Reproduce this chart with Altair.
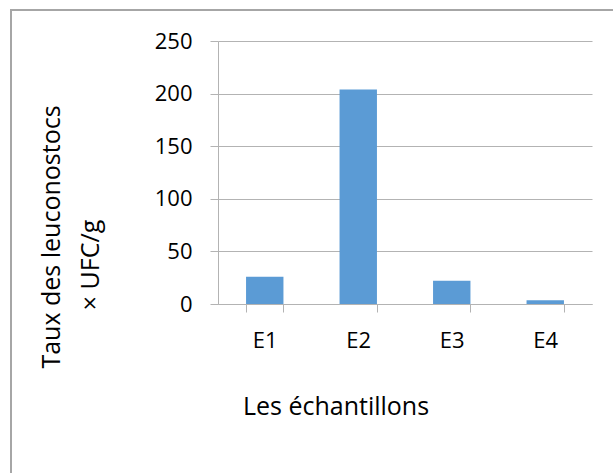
import altair as alt
import pandas as pd

# Leuconostoc counts per sample
samples = ["E1", "E2", "E3", "E4"]
counts = [26, 204, 22, 3.5]
y_ticks = [0, 50, 100, 150, 200, 250]
y_title_lines = ["Taux des leuconostocs", "× UFC/g"]
x_title = "Les échantillons"

FONT = "Open Sans"
LABEL_SIZE = 22
TITLE_SIZE = 25
GRAY = "#B3B3B3"
FRAME = "#A6A6A6"
BAR_COLOR = "#5B9BD5"

df = pd.DataFrame({"sample": samples, "count": counts})
one = pd.DataFrame({"k": [0]})

bars = alt.Chart(df).mark_bar(color=BAR_COLOR).encode(
    x=alt.X(
        "sample:N",
        sort=samples,
        scale=alt.Scale(paddingInner=0.6, paddingOuter=0.3),
        axis=alt.Axis(
            title=None,
            labelAngle=0,
            tickBand="extent",
            tickSize=8,
            tickColor=GRAY,
            domainColor=GRAY,
            labelFont=FONT,
            labelFontSize=LABEL_SIZE,
            labelColor="#000000",
            labelBaseline="alphabetic",
            labelPadding=35,
            grid=False,
        ),
    ),
    y=alt.Y(
        "count:Q",
        scale=alt.Scale(domain=[0, 250]),
        axis=alt.Axis(
            values=y_ticks,
            title=None,
            tickSize=8,
            tickColor=GRAY,
            domainColor=GRAY,
            gridColor=GRAY,
            grid=True,
            labelFont=FONT,
            labelFontSize=LABEL_SIZE,
            labelColor="#000000",
            labelPadding=18,
        ),
    ),
)

# Outer chart frame: top and left edges
frame_top = alt.Chart(one).mark_rule(color=FRAME, strokeWidth=2).encode(
    x=alt.value(-207), x2=alt.value(420), y=alt.value(-31)
)
frame_left = alt.Chart(one).mark_rule(color=FRAME, strokeWidth=2).encode(
    x=alt.value(-207), y=alt.value(-32), y2=alt.value(460)
)

title_style = dict(font=FONT, fontSize=TITLE_SIZE, color="#000000", baseline="alphabetic", align="center")

x_label = alt.Chart(one).mark_text(text=x_title, **title_style).encode(
    x=alt.value(118), y=alt.value(374)
)

y_label_1 = alt.Chart(one).mark_text(
    text=y_title_lines[0], angle=270, **title_style
).encode(x=alt.value(-158), y=alt.value(196))

y_label_2 = alt.Chart(one).mark_text(
    text=y_title_lines[1], angle=270, **title_style
).encode(x=alt.value(-119), y=alt.value(224))

chart = alt.layer(frame_top, frame_left, bars, x_label, y_label_1, y_label_2).properties(
    width=374,
    height=263,
    autosize=alt.AutoSizeParams(type="none"),
    padding={"left": 218, "top": 41, "right": 21, "bottom": 169},
).configure_view(strokeWidth=0)

chart.save("out.html", embed_options={"renderer": "svg", "actions": False})
